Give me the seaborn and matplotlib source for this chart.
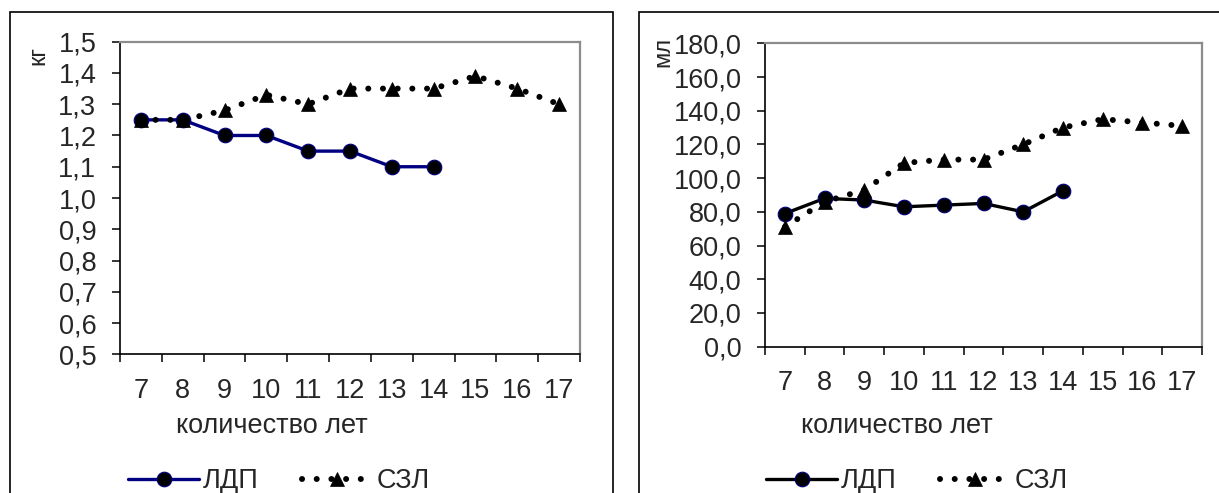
import matplotlib
matplotlib.use("Agg")
import matplotlib.pyplot as plt
from matplotlib.patches import Rectangle
import seaborn as sns

# Ages (years) shared by both panels
ages = ["7", "8", "9", "10", "11", "12", "13", "14", "15", "16", "17"]

# Body mass, kg
ldp_kg = [1.25, 1.25, 1.20, 1.20, 1.15, 1.15, 1.10, 1.10]
szl_kg = [1.25, 1.25, 1.28, 1.33, 1.30, 1.35, 1.35, 1.35, 1.39, 1.35, 1.30]
kg_ticks = [0.5, 0.6, 0.7, 0.8, 0.9, 1.0, 1.1, 1.2, 1.3, 1.4, 1.5]

# Volume, ml
ldp_ml = [79, 88, 87, 83, 84, 85, 80, 92.5]
szl_ml = [71, 86, 93, 109, 111, 111, 120, 130, 135, 133, 131]
ml_ticks = [0, 20, 40, 60, 80, 100, 120, 140, 160, 180]

series_names = ["ЛДП", "СЗЛ"]
x_title = "количество лет"

sns.set_style("white")
plt.rcParams["font.family"] = ["Liberation Sans", "DejaVu Sans"]

W, H = 1219, 493
fig = plt.figure(figsize=(W / 100, H / 100), dpi=100)
FS = 19.5


def px_box(x0, y0, x1, y1):
    return [x0 / W, 1 - y1 / H, (x1 - x0) / W, (y1 - y0) / H]


def style_axes(ax, ticks, fmt, ymin, ymax):
    n = len(ages)
    ax.set_xlim(-0.5, n - 0.5)
    ax.set_ylim(ymin, ymax)
    ax.set_xticks([i - 0.5 for i in range(n + 1)])
    ax.set_xticklabels([])
    ax.set_xticks(range(n), minor=True)
    ax.set_xticklabels(ages, minor=True)
    ax.tick_params(axis="x", which="major", direction="out", length=6,
                   width=1.1, color="black", bottom=True)
    ax.tick_params(axis="x", which="minor", length=0, pad=17, labelsize=FS)
    ax.set_yticks(ticks)
    ax.set_yticklabels([fmt.format(t).replace(".", ",") for t in ticks])
    ax.tick_params(axis="y", direction="out", length=6, width=1.1,
                   color="black", left=True, pad=11, labelsize=FS)
    for side in ("left", "bottom"):
        ax.spines[side].set_color("black")
        ax.spines[side].set_linewidth(1.2)
    for side in ("top", "right"):
        ax.spines[side].set_color("#8c8c8c")
        ax.spines[side].set_linewidth(1.6)
        ax.spines[side].set_visible(True)
    ax.grid(False)


def draw_series(ax, ldp, szl, ldp_color):
    sns.lineplot(x=list(range(len(ldp))), y=ldp, ax=ax, color=ldp_color,
                 linewidth=2.4, marker="o", markersize=10.5,
                 markerfacecolor="black", markeredgecolor="#000080",
                 markeredgewidth=0.8, label=series_names[0], legend=False,
                 sort=False)
    sns.lineplot(x=list(range(len(szl))), y=szl, ax=ax, color="black",
                 linewidth=4.3, linestyle=(0, (0.01, 2.45)),
                 dash_capstyle="round", marker="^", markersize=10,
                 markerfacecolor="black", markeredgecolor="black",
                 markeredgewidth=0.5, label=series_names[1], legend=False,
                 sort=False)


def add_legend(ax, cx):
    handles = ax.get_lines()[:2]
    fig.legend(handles, series_names, loc="center",
               bbox_to_anchor=(cx / W, 1 - 481 / H), ncol=2, frameon=False,
               fontsize=FS, handlelength=2.6, handletextpad=0.15,
               columnspacing=1.6, numpoints=1)


# Left panel: mass
ax1 = fig.add_axes(px_box(120, 41.7, 580, 354.3))
draw_series(ax1, ldp_kg, szl_kg, "#000080")
style_axes(ax1, kg_ticks, "{:.1f}", 0.5, 1.5)
ax1.set_ylabel("кг", fontsize=17, rotation=90, va="center", ha="center")
ax1.yaxis.set_label_coords(-0.178, 0.955)
ax1.set_xlabel(x_title, fontsize=FS, va="baseline", ha="center")
ax1.xaxis.set_label_coords(0.33, -0.252)
add_legend(ax1, 279)

# Right panel: volume
ax2 = fig.add_axes(px_box(765, 43.3, 1202, 346.7))
draw_series(ax2, ldp_ml, szl_ml, "black")
style_axes(ax2, ml_ticks, "{:.1f}", 0, 180)
ax2.set_ylabel("мл", fontsize=17, rotation=90, va="center", ha="center")
ax2.yaxis.set_label_coords(-0.233, 0.97)
ax2.set_xlabel(x_title, fontsize=FS, va="baseline", ha="center")
ax2.xaxis.set_label_coords(0.302, -0.284)
add_legend(ax2, 917)

# Chart frames around each panel
for x0, x1 in ((10, 613), (639, 1240)):
    fig.add_artist(Rectangle((x0 / W, -0.05), (x1 - x0) / W,
                             1.05 - 12 / H, transform=fig.transFigure,
                             fill=False, edgecolor="black", linewidth=1.2))

fig.savefig("out.png", dpi=100, facecolor="white")
